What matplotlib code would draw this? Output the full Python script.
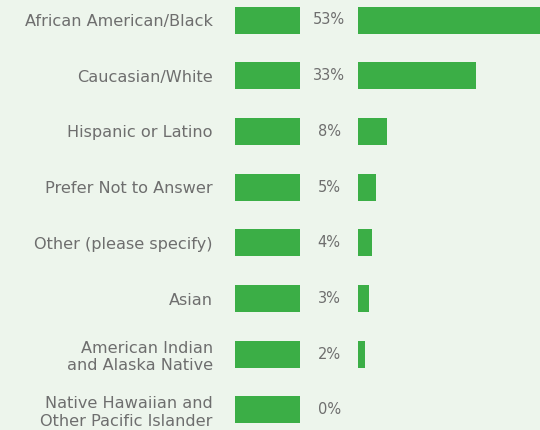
import matplotlib
matplotlib.use("Agg")
import matplotlib.pyplot as plt

categories = [
    "African American/Black",
    "Caucasian/White",
    "Hispanic or Latino",
    "Prefer Not to Answer",
    "Other (please specify)",
    "Asian",
    "American Indian\nand Alaska Native",
    "Native Hawaiian and\nOther Pacific Islander",
]
values = [53, 33, 8, 5, 4, 3, 2, 0]
pct_labels = ["53%", "33%", "8%", "5%", "4%", "3%", "2%", "0%"]

BG = "#edf5ec"
GREEN = "#3bae46"
TXT = "#6e6e6e"

W, H = 540, 430
fig = plt.figure(figsize=(5.4, 4.3), dpi=100, facecolor=BG)

row_px = 55.7
top_px = 20
ylim = ((H - top_px) / row_px, -top_px / row_px)
ys = list(range(len(categories)))
bar_h = 27 / row_px

# swatch axes (constant blocks with category labels)
ax_sw = fig.add_axes([235 / W, 0, 65 / W, 1])
ax_sw.set_facecolor("none")
ax_sw.barh(ys, [1] * len(ys), height=bar_h, color=GREEN)
ax_sw.set_xlim(0, 1)
ax_sw.set_ylim(*ylim)
ax_sw.set_xticks([])
ax_sw.set_yticks(ys)
ax_sw.set_yticklabels(categories, fontsize=11.6, color=TXT, linespacing=1.2)
ax_sw.tick_params(axis="y", length=0, pad=16)
for s in ax_sw.spines.values():
    s.set_visible(False)
for y, lab in zip(ys, pct_labels):
    ax_sw.annotate(lab, xy=(1, y), xytext=(21, 0), textcoords="offset points",
                   ha="center", va="center", fontsize=10.5, color=TXT)

# data bars axes
scale_max = (W - 358) / (118 / 33)
ax = fig.add_axes([358 / W, 0, (W - 358) / W, 1])
ax.set_facecolor("none")
ax.barh(ys, values, height=bar_h, color=GREEN)
ax.set_xlim(0, scale_max)
ax.set_ylim(*ylim)
ax.set_xticks([])
ax.set_yticks([])
for s in ax.spines.values():
    s.set_visible(False)

fig.savefig("out.png", dpi=100, facecolor=BG)
